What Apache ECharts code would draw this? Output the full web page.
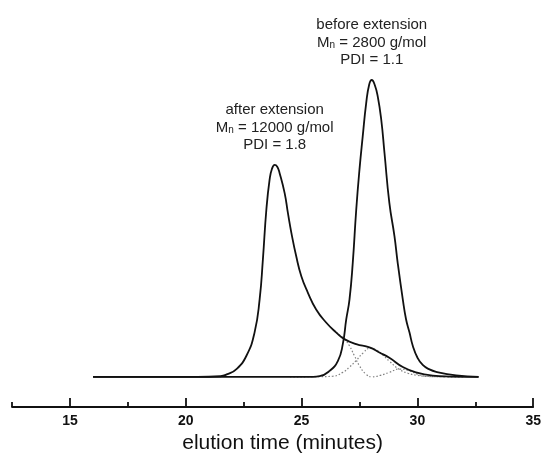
<!DOCTYPE html>
<html>
<head>
<meta charset="utf-8">
<script src="https://cdn.jsdelivr.net/npm/echarts@6/dist/echarts.min.js"></script>
<style>
html,body{margin:0;padding:0;background:#fff;}
#chart{width:544px;height:459px;}
</style>
</head>
<body>
<div id="chart"></div>
<script>
// elution time (minutes) and detector response (arbitrary units, before-extension peak = 100)
var afterTime = [16.0, 20.5, 21.5, 21.8, 22.19, 22.62, 22.97, 23.19, 23.33, 23.48, 23.62, 23.72, 23.84, 23.95, 24.05, 24.27, 24.41, 24.56, 24.77, 24.99, 25.27, 25.63, 26.06, 26.5, 26.85, 27.36, 27.93, 28.36, 28.79, 29.37, 29.94, 30.66, 31.38, 32.64];
var afterVal  = [0, 0, 0.2, 0.9, 2.6, 7.1, 14.9, 26.1, 39.5, 56.3, 66.4, 70.0, 71.4, 70.8, 68.7, 61.9, 55.2, 48.5, 40.6, 33.9, 28.4, 22.7, 18.3, 14.9, 12.7, 11.0, 9.9, 8.2, 6.4, 3.3, 1.5, 0.4, 0.1, 0];

var beforeTime = [16.0, 25.5, 25.78, 26.21, 26.57, 26.78, 26.93, 27.07, 27.21, 27.36, 27.5, 27.64, 27.79, 27.92, 28.03, 28.16, 28.29, 28.44, 28.58, 28.79, 29.01, 29.15, 29.37, 29.51, 29.66, 29.8, 30.0, 30.23, 30.5, 30.81, 31.67, 32.64];
var beforeVal  = [0, 0, 0.2, 2.0, 5.4, 11.0, 19.4, 26.1, 38.4, 56.3, 69.8, 81.0, 92.2, 98.5, 100, 98.3, 94.4, 86.6, 75.4, 58.6, 47.4, 38.4, 26.1, 19.4, 14.9, 10.5, 6.5, 4.0, 2.6, 1.7, 0.5, 0];

// dotted deconvolution components
var compATime = [26.5, 26.85, 27.07, 27.28, 27.5, 27.78, 28.06, 28.4, 28.79, 29.22, 29.66, 30.0, 30.23, 30.6, 31.2, 32.0];
var compAVal  = [14.9, 12.7, 10.4, 7.1, 3.7, 0.9, 0, 0.5, 1.5, 2.6, 2.0, 0.9, 0.3, 0.1, 0, 0];

var compBTime = [24.5, 25.8, 26.35, 26.78, 27.07, 27.36, 27.65, 27.95, 28.2, 28.5, 28.8, 29.2, 29.6, 30.0, 30.5, 31.2];
var compBVal  = [0, 0.05, 0.2, 1.5, 3.3, 5.5, 8.0, 9.6, 9.2, 7.4, 5.2, 2.6, 1.2, 0.5, 0.1, 0];

var majorTicks = [15, 20, 25, 30, 35];
var minorTicks = [12.5, 17.5, 22.5, 27.5, 32.5];

var beforeLabel = ['before extension', 'M|n| = 2800 g/mol', 'PDI = 1.1'];
var afterLabel  = ['after extension', 'M|n| = 12000 g/mol', 'PDI = 1.8'];

function pairs(t, v){ return t.map(function(x,i){ return [x, v[i]]; }); }
function peak(t, v){ var m = 0; for (var i=1;i<v.length;i++) if (v[i] > v[m]) m = i; return [t[m], v[m]]; }
function richText(lines){
  return lines.map(function(l){
    var p = l.split('|');
    if (p.length === 3) return '{a|' + p[0] + '}{s|' + p[1] + '}{a|' + p[2] + '}';
    return '{a|' + l + '}';
  }).join('\n');
}
var FONT = 'Liberation Sans, Arial, sans-serif';
var rich = {
  a: {fontSize: 15, lineHeight: 17.5, color: '#222', fontFamily: FONT},
  s: {fontSize: 10, lineHeight: 17.5, color: '#222', fontFamily: FONT, padding: [5, 0, 0, 0]}
};
function annot(t, v, lines){
  return {
    symbol: 'circle', symbolSize: 2, silent: true,
    itemStyle: {color: 'rgba(0,0,0,0)'},
    data: [{coord: peak(t, v)}],
    label: {show: true, position: 'top', distance: 10, formatter: richText(lines), rich: rich, align: 'center'}
  };
}

var chart = echarts.init(document.getElementById('chart'), null, {renderer: 'canvas'});
var solid = {type: 'line', showSymbol: false, smooth: 0.5, lineStyle: {color: '#111', width: 1.8}, z: 3, animation: false};
var dotted = {type: 'line', showSymbol: false, smooth: 0.5, lineStyle: {color: '#808080', width: 1.2, type: [1.5, 2]}, z: 2, animation: false};

chart.setOption({
  animation: false,
  backgroundColor: '#fff',
  grid: {left: 12, right: 10, top: 50, bottom: 51},
  xAxis: [{
    type: 'value', min: 12.5, max: 35, interval: 2.5,
    name: 'elution time (minutes)', nameLocation: 'middle', nameGap: 24,
    nameTextStyle: {fontSize: 21, color: '#111', fontFamily: FONT, padding: [0, 0, 0, 20]},
    axisLine: {show: true, onZero: false, lineStyle: {color: '#111', width: 1.8}},
    axisTick: {show: true, inside: true, length: 9, customValues: majorTicks, lineStyle: {color: '#111', width: 1.8}},
    axisLabel: {show: true, customValues: majorTicks, margin: 7, fontSize: 14, fontWeight: 'bold', color: '#111', fontFamily: FONT},
    splitLine: {show: false}
  }, {
    type: 'value', min: 12.5, max: 35, interval: 2.5, position: 'bottom', offset: 0,
    axisLine: {show: false, onZero: false},
    axisTick: {show: true, inside: true, length: 5, customValues: minorTicks, lineStyle: {color: '#111', width: 1.8}},
    axisLabel: {show: false},
    splitLine: {show: false}
  }],
  yAxis: {type: 'value', min: -10.2, max: 110.1, show: false},
  series: [
    Object.assign({}, dotted, {name: 'compA', data: pairs(compATime, compAVal)}),
    Object.assign({}, dotted, {name: 'compB', data: pairs(compBTime, compBVal)}),
    Object.assign({}, solid, {name: 'after', data: pairs(afterTime, afterVal), markPoint: annot(afterTime, afterVal, afterLabel)}),
    Object.assign({}, solid, {name: 'before', data: pairs(beforeTime, beforeVal), markPoint: annot(beforeTime, beforeVal, beforeLabel)})
  ]
});
</script>
</body>
</html>
